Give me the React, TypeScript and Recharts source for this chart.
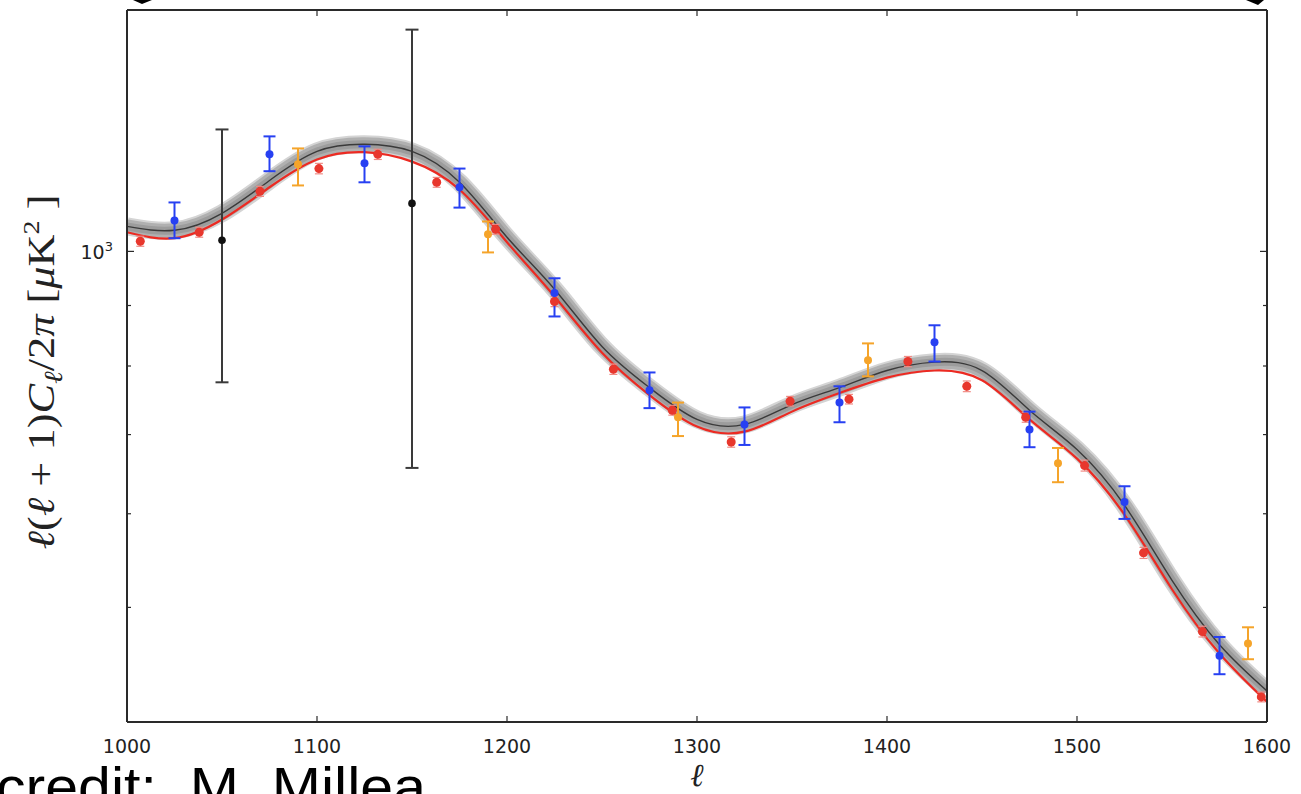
import React from 'react';
import { ComposedChart, Line, Scatter, ErrorBar, XAxis, YAxis } from 'recharts';

// theory curves, sampled every 25 in ell
const ellGrid = [1000, 1025, 1050, 1075, 1100, 1125, 1150, 1175, 1200, 1225, 1250, 1275, 1300, 1325, 1350, 1375, 1400, 1425, 1450, 1475, 1500, 1525, 1550, 1575, 1600];
const grayCurve = [1050, 1042, 1077, 1148, 1215, 1232, 1215, 1144, 1028, 929, 831, 767, 721, 714, 742, 767, 793, 806, 793, 734, 680, 610, 527, 465, 425];
const redCurve = [1038, 1026, 1064, 1133, 1196, 1213, 1191, 1128, 1018, 916, 821, 756, 711, 704, 732, 759, 782, 793, 778, 721, 668, 599, 518, 457, 416];

// red band powers
const redEll = [1007, 1038, 1070, 1101, 1132, 1163, 1194, 1225, 1256, 1287, 1318, 1349, 1380, 1411, 1442, 1473, 1504, 1535, 1566, 1597];
const redVal = [1020, 1038, 1124, 1175, 1208, 1144, 1044, 907, 795, 734, 690, 747, 750, 807, 769, 724, 659, 556, 477, 420];
const redErr = [10, 10, 11, 12, 12, 11, 10, 9, 8, 7, 7, 7, 7, 8, 8, 7, 7, 6, 5, 4];

// blue band powers
const blueEll = [1025, 1075, 1125, 1175, 1225, 1275, 1325, 1375, 1425, 1475, 1525, 1575];
const blueVal = [1062, 1208, 1187, 1133, 922, 763, 714, 745, 838, 707, 614, 455];
const blueLo = [1026, 1169, 1144, 1089, 881, 737, 686, 717, 807, 683, 594, 439];
const blueHi = [1100, 1251, 1227, 1175, 949, 790, 738, 769, 866, 732, 633, 472];

// orange band powers
const orangeEll = [1090, 1190, 1290, 1390, 1490, 1590];
const orangeVal = [1185, 1034, 724, 809, 662, 466];
const orangeLo = [1137, 998, 698, 784, 638, 452];
const orangeHi = [1222, 1060, 745, 836, 682, 481];

// black band powers
const blackEll = [1050, 1150];
const blackVal = [1022, 1098];
const blackLo = [775, 656];
const blackHi = [1268, 1540];

const xTicks = [1000, 1100, 1200, 1300, 1400, 1500, 1600];
const yTicks = [500, 600, 700, 800, 900, 1000];

const theory = ellGrid.map((ell, i) => ({ ell, gray: grayCurve[i], red: redCurve[i] }));

const toPoints = (ells: number[], vals: number[], lo: number[], hi: number[]) =>
  ells.map((ell, i) => ({ ell, v: vals[i], err: [vals[i] - lo[i], hi[i] - vals[i]] }));

const redPts = redEll.map((ell, i) => ({ ell, v: redVal[i], err: redErr[i] }));
const bluePts = toPoints(blueEll, blueVal, blueLo, blueHi);
const orangePts = toPoints(orangeEll, orangeVal, orangeLo, orangeHi);
const blackPts = toPoints(blackEll, blackVal, blackLo, blackHi);

const AXIS = '#2a2a2a';

const BottomTick = (props: any) => {
  const { x, y, payload } = props;
  return (
    <g>
      <line x1={x} y1={y} x2={x} y2={y - 6} stroke={AXIS} strokeWidth={1.2} />
      <text x={x} y={y + 31} textAnchor="middle" fontFamily="DejaVu Sans" fontSize={19} fill="#222">
        {payload.value}
      </text>
    </g>
  );
};

const TopTick = (props: any) => {
  const { x, y } = props;
  return <line x1={x} y1={y} x2={x} y2={y + 6} stroke={AXIS} strokeWidth={1.2} />;
};

const LeftTick = (props: any) => {
  const { x, y, payload } = props;
  const major = payload.value === 1000;
  return (
    <g>
      <line x1={x} y1={y} x2={x + (major ? 7 : 4)} y2={y} stroke={AXIS} strokeWidth={1.2} />
      {major && (
        <text x={x - 14} y={y + 8} textAnchor="end" fontFamily="DejaVu Sans" fontSize={19} fill="#222">
          10
          <tspan dy={-8} fontSize={13}>3</tspan>
        </text>
      )}
    </g>
  );
};

const RightTick = (props: any) => {
  const { x, y, payload } = props;
  const major = payload.value === 1000;
  return <line x1={x} y1={y} x2={x - (major ? 7 : 4)} y2={y} stroke={AXIS} strokeWidth={1.2} />;
};

const dot = (fill: string, r: number) => (p: any) => <circle cx={p.cx} cy={p.cy} r={r} fill={fill} />;

const band = (stroke: string, w: number, key: string) => (
  <Line key={key} type="natural" dataKey="gray" stroke={stroke} strokeWidth={w} dot={false} activeDot={false} isAnimationActive={false} />
);

export default function App() {
  return (
    <div style={{ position: 'absolute', left: 0, top: 0, width: 1301, height: 794, background: '#fff', overflow: 'hidden' }}>
      <ComposedChart
        width={1301}
        height={794}
        data={theory}
        margin={{ top: 9, right: 33, bottom: 42, left: 67 }}
      >
        <XAxis
          type="number"
          dataKey="ell"
          domain={[1000, 1600]}
          ticks={xTicks}
          allowDataOverflow
          height={30}
          tickSize={0}
          tickMargin={0}
          tick={<BottomTick />}
          axisLine={{ stroke: AXIS, strokeWidth: 2 }}
        />
        <XAxis
          xAxisId="top"
          orientation="top"
          type="number"
          dataKey="ell"
          domain={[1000, 1600]}
          ticks={xTicks}
          allowDataOverflow
          height={1}
          tickSize={0}
          tickMargin={0}
          tick={<TopTick />}
          axisLine={{ stroke: AXIS, strokeWidth: 2 }}
        />
        <YAxis
          type="number"
          scale="log"
          domain={[400, 1600]}
          ticks={yTicks}
          allowDataOverflow
          width={60}
          tickSize={0}
          tickMargin={0}
          tick={<LeftTick />}
          axisLine={{ stroke: AXIS, strokeWidth: 2 }}
        />
        <YAxis
          yAxisId="right"
          orientation="right"
          type="number"
          scale="log"
          domain={[400, 1600]}
          ticks={yTicks}
          allowDataOverflow
          width={1}
          tickSize={0}
          tickMargin={0}
          tick={<RightTick />}
          axisLine={{ stroke: AXIS, strokeWidth: 2 }}
        />

        {/* gray posterior band */}
        {band('#d4d4d4', 18, 'b1')}
        {band('#b0b0b0', 14, 'b2')}
        {band('#9c9c9c', 8, 'b3')}
        {band('#3a3a3a', 1.4, 'b4')}
        <Line type="natural" dataKey="red" stroke="#ec2a22" strokeWidth={2.2} dot={false} activeDot={false} isAnimationActive={false} />

        <Scatter data={redPts} dataKey="v" shape={dot('#e8372d', 4.5)} isAnimationActive={false}>
          <ErrorBar dataKey="err" direction="y" width={4} stroke="#f08a84" strokeWidth={1.2} />
        </Scatter>
        <Scatter data={orangePts} dataKey="v" shape={dot('#f5a42a', 4)} isAnimationActive={false}>
          <ErrorBar dataKey="err" direction="y" width={6} stroke="#f5a42a" strokeWidth={2} />
        </Scatter>
        <Scatter data={bluePts} dataKey="v" shape={dot('#2740f2', 4)} isAnimationActive={false}>
          <ErrorBar dataKey="err" direction="y" width={6} stroke="#2740f2" strokeWidth={2} />
        </Scatter>
        <Scatter data={blackPts} dataKey="v" shape={dot('#111111', 3.8)} isAnimationActive={false}>
          <ErrorBar dataKey="err" direction="y" width={6.5} stroke="#3a3a3a" strokeWidth={2} />
        </Scatter>
      </ComposedChart>

      <svg width={1301} height={794} style={{ position: 'absolute', left: 0, top: 0, pointerEvents: 'none' }}>
        <text
          transform="translate(54, 372) rotate(-90)"
          textAnchor="middle"
          fontFamily="Liberation Serif"
          fontSize={38}
          fill="#222"
          textLength={355}
          lengthAdjust="spacingAndGlyphs"
        >
          <tspan fontStyle="italic">ℓ</tspan>
          <tspan>(</tspan>
          <tspan fontStyle="italic">ℓ</tspan>
          <tspan> + 1)</tspan>
          <tspan fontStyle="italic">C</tspan>
          <tspan fontStyle="italic" fontSize={26} dy={8}>ℓ</tspan>
          <tspan dy={-8}>/2</tspan>
          <tspan fontStyle="italic">π</tspan>
          <tspan>  [</tspan>
          <tspan fontStyle="italic">μ</tspan>
          <tspan>K</tspan>
          <tspan fontSize={24} dy={-15}>2</tspan>
          <tspan dy={15}> ]</tspan>
        </text>
        <text x={697} y={786} textAnchor="middle" fontFamily="Liberation Serif" fontStyle="italic" fontSize={32} fill="#222">
          ℓ
        </text>
        <text
          x={-4}
          y={806}
          fontFamily="Liberation Sans"
          fontSize={56}
          fill="#000"
          textLength={430}
          lengthAdjust="spacingAndGlyphs"
          style={{ whiteSpace: 'pre' }}
        >
          credit:  M. Millea
        </text>
        <path d="M133,0 L152,0 L142,4 Z" fill="#000" />
        <path d="M1246,0 L1264,0 L1258,5 Z" fill="#000" />
      </svg>
    </div>
  );
}
